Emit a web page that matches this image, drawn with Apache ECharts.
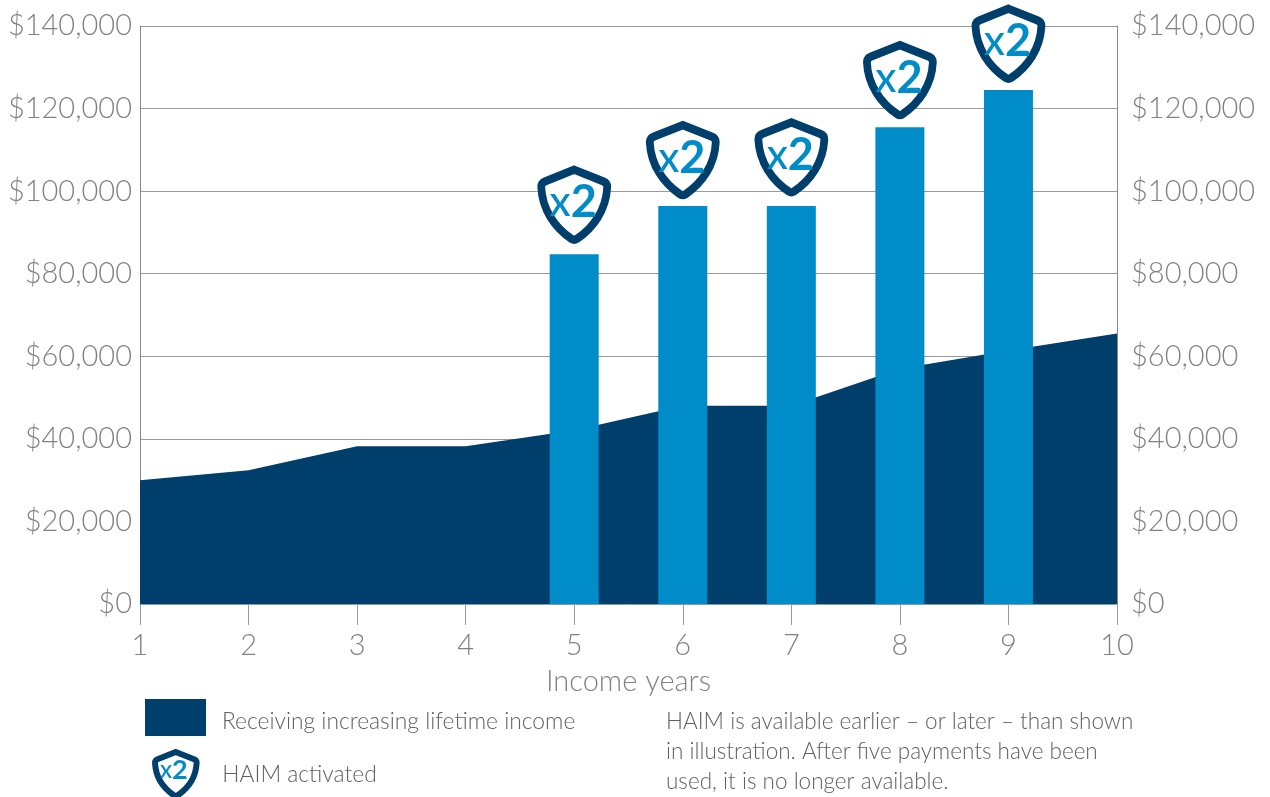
<!DOCTYPE html>
<html>
<head>
<meta charset="utf-8">
<title>Income years</title>
<script src="https://cdn.jsdelivr.net/npm/echarts@6/dist/echarts.min.js"></script>
<style>
  html, body { margin: 0; padding: 0; background: #fff; }
  #main { width: 1270px; height: 797px; }
</style>
</head>
<body>
<div id="main"></div>
<script>
// values
var years = ['1', '2', '3', '4', '5', '6', '7', '8', '9', '10'];
var incomeValues = [30000, 32400, 38200, 38200, 42100, 48000, 48000, 57000, 61400, 65500];
var haimValues = [null, null, null, null, 84700, 96400, 96400, 115500, 124500, null];
// where the shield badges sit, in dollars
var shieldValues = [null, null, null, null, 96700, 107500, 108200, 126900, 135700, null];
var yTicks = [0, 20000, 40000, 60000, 80000, 100000, 120000, 140000];
var noteLines = [
  'HAIM is available earlier – or later – than shown',
  'in illustration. After five payments have been',
  'used, it is no longer available.'
];

var NAVY = '#003e6b';
var BLUE = '#008cc8';
var GREY = '#808386';
var TEXT = '#5f6164';
var FONT = 'Lato';
var SHIELD = 'path://M33 0L62 11.5Q66 13 66 17C65 40 52 58 35.5 69Q33 70.5 30.5 69C14 58 1 40 0 17Q0 13 4 11.5Z';

function money(v) {
  return '$' + v.toLocaleString('en-US');
}

function yAxis(pos, showSplit, margin) {
  return {
    type: 'value',
    position: pos,
    min: yTicks[0],
    max: yTicks[yTicks.length - 1],
    interval: 20000,
    axisLine: { show: true, lineStyle: { color: '#85878a', width: 1 } },
    axisTick: { show: false },
    axisLabel: { color: GREY, fontFamily: FONT, fontWeight: 300, fontSize: 29, margin: margin, formatter: money },
    splitLine: { show: showSplit, lineStyle: { color: '#9a9a9a', width: 1 } }
  };
}

function legendText(pad) {
  return {
    color: TEXT,
    padding: [0, 0, 0, pad[1]],
    rich: { a: { color: TEXT, fontFamily: FONT, fontWeight: 300, fontSize: 22.8, padding: [pad[0], 0, 0, 0] } }
  };
}

var chart = echarts.init(document.getElementById('main'));
chart.setOption({
  animation: false,
  textStyle: { fontFamily: FONT },
  grid: { left: 140, top: 26, width: 977, height: 578, outerBoundsMode: 'none' },
  legend: [
    {
      left: 145, top: 699, padding: 0, itemWidth: 61, itemHeight: 37, itemGap: 0,
      data: [{ name: 'Receiving increasing lifetime income', icon: 'rect' }],
      formatter: '{a|{name}}',
      textStyle: legendText([8, 11])
    },
    {
      left: 152, top: 749, padding: 0, itemWidth: 47, itemHeight: 44, itemGap: 0,
      data: [{ name: 'HAIM activated', icon: SHIELD, itemStyle: { color: '#fff', borderColor: NAVY, borderWidth: 6 } }],
      formatter: '{a|{name}}',
      textStyle: legendText([2, 18])
    }
  ],
  xAxis: {
    type: 'category',
    data: years,
    boundaryGap: false,
    name: 'Income years',
    nameLocation: 'middle',
    nameGap: 63,
    nameTextStyle: { color: GREY, fontFamily: FONT, fontWeight: 300, fontSize: 29 },
    axisLine: { show: true, lineStyle: { color: '#7f9db5', width: 1 } },
    axisTick: { show: true, alignWithLabel: true, length: 21, lineStyle: { color: '#9a9a9a', width: 1 } },
    axisLabel: { color: GREY, fontFamily: FONT, fontWeight: 300, fontSize: 29, margin: 27, showMinLabel: true, showMaxLabel: true, interval: 0 },
    splitLine: { show: false }
  },
  yAxis: [yAxis('left', true, 8), yAxis('right', false, 14)],
  series: [
    {
      name: 'Receiving increasing lifetime income',
      type: 'line',
      data: incomeValues,
      symbol: 'none',
      lineStyle: { width: 0 },
      itemStyle: { color: NAVY },
      areaStyle: { color: NAVY, opacity: 1 },
      z: 3
    },
    {
      name: 'HAIM bars',
      type: 'bar',
      data: haimValues,
      barWidth: 49,
      itemStyle: { color: BLUE },
      z: 4
    },
    {
      name: 'HAIM activated',
      type: 'scatter',
      data: shieldValues,
      clip: false,
      symbol: SHIELD,
      symbolSize: [66, 70],
      itemStyle: { color: '#fff', borderColor: NAVY, borderWidth: 8, opacity: 1 },
      label: {
        show: true,
        position: 'inside',
        offset: [-1, -2],
        formatter: '{x|x}{two|2}',
        rich: {
          x: { color: BLUE, fontFamily: FONT, fontSize: 42, fontWeight: 500 },
          two: { color: BLUE, fontFamily: FONT, fontSize: 45, fontWeight: 700 }
        }
      },
      z: 5
    }
  ],
  graphic: [
    {
      type: 'text', left: 160, top: 757, z: 10,
      style: {
        rich: {
          x: { fill: BLUE, fontFamily: FONT, fontSize: 24, fontWeight: 500 },
          two: { fill: BLUE, fontFamily: FONT, fontSize: 27, fontWeight: 700 }
        },
        text: '{x|x}{two|2}'
      }
    },
    {
      type: 'text', left: 666, top: 707, z: 10,
      style: {
        text: noteLines.join('\n'),
        fill: TEXT,
        fontFamily: FONT,
        fontWeight: 300,
        fontSize: 22.5,
        lineHeight: 30
      }
    }
  ]
});
</script>
</body>
</html>
